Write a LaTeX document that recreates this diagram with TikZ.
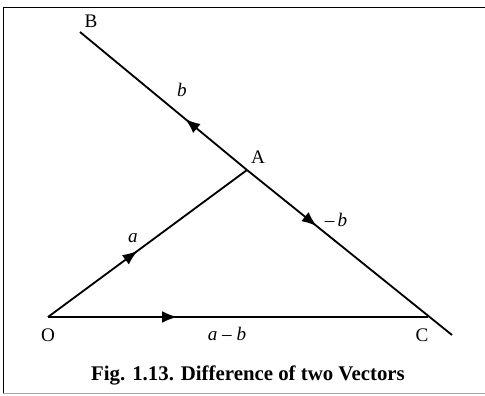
\documentclass[tikz,border=0pt]{standalone}
\usepackage{fontspec}
\setmainfont{Liberation Serif}
\usepackage{tikz}
\usetikzlibrary{arrows.meta,decorations.markings}
\tikzset{
    vector/.style={draw, line width=1.1pt},
    midarrow/.style={
        postaction={decorate},
        decoration={markings,
            mark=at position #1 with {\arrow{Latex[length=9pt,width=7pt]}}}
    },
    point/.style={font=\fontsize{11.5}{13}\selectfont, inner sep=0pt},
    vlabel/.style={font=\fontsize{11.5}{13}\selectfont\itshape, inner sep=0pt},
    caption/.style={font=\fontsize{12.5}{14}\selectfont\bfseries, inner sep=0pt}
}

\begin{document}
\begin{tikzpicture}[x=0.6pt,y=-0.6pt]
\useasboundingbox (0,0) rectangle (485,396);

% ---- Frame ----
\draw[line width=1.1pt] (485,7.5) -- (3.5,7.5) -- (3.5,393.5);
\draw[line width=0.8pt, black!35] (3.5,393.5) -- (485,393.5);

% ---- Points ----
\coordinate (O) at (48,317);
\coordinate (A) at (247,170);
\coordinate (B) at (80,32);
\coordinate (C) at (428,317);
\coordinate (E) at (452,335);

% ---- Vectors ----
\draw[vector, midarrow=0.45] (O) -- (A);
\draw[vector, midarrow=0.34] (O) -- (C);
\draw[vector, midarrow=0.37] (A) -- (B);
\draw[vector, midarrow=0.34] (A) -- (E);

% ---- Labels ----
\node[point] (lO) at (48,335) {O};
\node[point] (lA) at (258,157) {A};
\node[point] (lB) at (91,21) {B};
\node[point] (lC) at (422,335) {C};
\node[vlabel] (la) at (133,238) {a};
\node[vlabel] (lb) at (182,90) {b};
\node[vlabel] (lmb) at (336,220) {\upshape\textendash\,\itshape b};
\node[vlabel] (lab) at (227,334) {a \upshape\textendash\ \itshape b};

% ---- Caption ----
\node[caption] (cap) at (248,375) {Fig. 1.13. Difference of two Vectors};

\end{tikzpicture}
\end{document}
